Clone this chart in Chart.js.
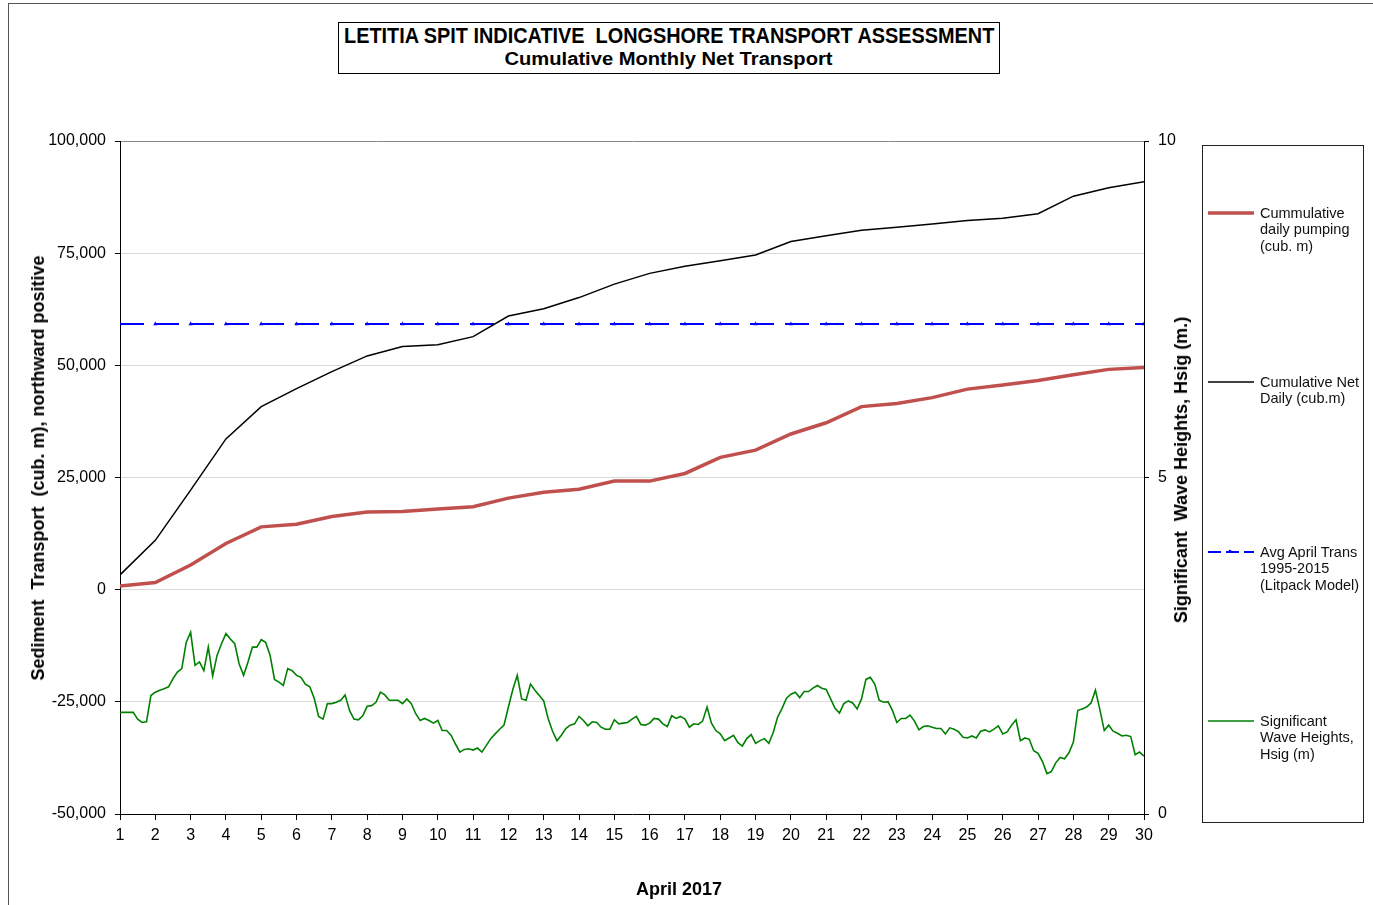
<!DOCTYPE html>
<html>
<head>
<meta charset="utf-8">
<title>Letitia Spit longshore transport</title>
<script src="https://cdn.jsdelivr.net/npm/chart.js@4.4.1/dist/chart.umd.min.js"></script>
<style>
body { margin: 0; background: #fff; width: 1373px; height: 905px; overflow: hidden; position: relative;
       font-family: "Liberation Sans", Arial, sans-serif; }
#frame { position: absolute; left: 8px; top: 3px; width: 1400px; height: 1000px;
         border-left: 1px solid #555; border-top: 1px solid #555; }
#chart { position: absolute; left: 0; top: 0; }
#titleBox { position: absolute; left: 338px; top: 22px; width: 660px; height: 50px; border: 1px solid #000; background: #fff; }
.tline { position: absolute; left: -300px; right: -300px; text-align: center; font-weight: bold; color: #000; white-space: pre; }
.tline span { display: inline-block; transform-origin: center; }
.axtitle { position: absolute; font-weight: bold; font-size: 18px; line-height: 20px; color: #000; white-space: pre;
           transform: translate(-50%, -50%); }
.axtitle.vert { transform: translate(-50%, -50%) rotate(-90deg); }
#legendBox { position: absolute; left: 1202px; top: 145px; width: 160px; height: 676px; border: 1px solid #222; }
.lg { position: absolute; left: 1260px; font-size: 14.5px; line-height: 16.5px; color: #111; white-space: nowrap; }
.sw { position: absolute; left: 1208px; width: 48px; height: 10px; }
</style>
</head>
<body>
<div id="frame"></div>
<canvas id="chart" width="1373" height="905"></canvas>

<div id="titleBox">
  <div class="tline" style="top:1px;font-size:22px;line-height:24px"><span data-w="650">LETITIA SPIT INDICATIVE  LONGSHORE TRANSPORT ASSESSMENT</span></div>
  <div class="tline" style="top:26px;font-size:18px;line-height:20px"><span data-w="328">Cumulative Monthly Net Transport</span></div>
</div>

<div class="axtitle vert" style="left:38px;top:468px">Sediment  Transport  (cub. m), northward positive</div>
<div class="axtitle vert" style="left:1181px;top:470px">Significant  Wave Heights, Hsig (m.)</div>
<div class="axtitle" style="left:679px;top:889px">April 2017</div>

<div id="legendBox"></div>
<svg class="sw" style="top:208px"><line x1="0" y1="5" x2="46" y2="5" stroke="#c0504d" stroke-width="3.5"/></svg>
<div class="lg" style="top:204.75px">Cummulative<br>daily pumping<br>(cub. m)</div>
<svg class="sw" style="top:377px"><line x1="0" y1="5" x2="46" y2="5" stroke="#000" stroke-width="1.5"/></svg>
<div class="lg" style="top:373.75px">Cumulative Net<br>Daily (cub.m)</div>
<svg class="sw" style="top:547px"><line x1="0" y1="5" x2="46" y2="5" stroke="#0000ff" stroke-width="2" stroke-dasharray="13,5"/><polygon points="22,2.5 25,5 19,5" fill="#0000ff"/></svg>
<div class="lg" style="top:543.75px">Avg April Trans<br>1995-2015<br>(Litpack Model)</div>
<svg class="sw" style="top:716px"><line x1="0" y1="5" x2="46" y2="5" stroke="#008000" stroke-width="1.5"/></svg>
<div class="lg" style="top:712.75px">Significant<br>Wave Heights,<br>Hsig (m)</div>

<script>
// April 2017, day of month
const days = [1, 2, 3, 4, 5, 6, 7, 8, 9, 10, 11, 12, 13, 14, 15,
              16, 17, 18, 19, 20, 21, 22, 23, 24, 25, 26, 27, 28, 29, 30];

// cumulative daily pumping (cub. m)
const pumping = [800, 1600, 5500, 10300, 14000, 14600, 16300, 17300, 17400, 18000,
                 18500, 20400, 21700, 22400, 24200, 24200, 25900, 29500, 31100, 34700,
                 37200, 40800, 41500, 42800, 44700, 45600, 46600, 47900, 49100, 49500];

// cumulative net daily transport (cub. m)
const netDaily = [3300, 11000, 22200, 33600, 40800, 44800, 48600, 52100, 54200, 54600,
                  56400, 61000, 62600, 65100, 68100, 70500, 72100, 73300, 74600, 77600,
                  78900, 80100, 80800, 81500, 82300, 82800, 83800, 87700, 89600, 90900];

// Avg April transport 1995-2015 (Litpack model)
const avgAprilTrans = 59200;

// significant wave height (m), 3-hourly from 1 April 00:00
const hsigStartDay = 1;
const hsigStepHours = 3;
const hsig = [
  1.51, 1.51, 1.51, 1.51, 1.41, 1.36, 1.37, 1.76,
  1.81, 1.84, 1.86, 1.89, 2.01, 2.11, 2.16, 2.55,
  2.70, 2.21, 2.26, 2.13, 2.48, 2.05, 2.36, 2.53,
  2.68, 2.60, 2.53, 2.23, 2.06, 2.26, 2.48, 2.48,
  2.59, 2.55, 2.36, 2.00, 1.96, 1.91, 2.16, 2.13,
  2.06, 2.03, 1.93, 1.89, 1.72, 1.45, 1.41, 1.64,
  1.64, 1.66, 1.69, 1.77, 1.54, 1.41, 1.40, 1.46,
  1.60, 1.61, 1.66, 1.81, 1.77, 1.69, 1.69, 1.69,
  1.64, 1.71, 1.64, 1.49, 1.39, 1.42, 1.39, 1.35,
  1.39, 1.24, 1.24, 1.17, 1.04, 0.92,
  0.96, 0.97, 0.95, 0.98, 0.92, 1.02, 1.12, 1.19,
  1.26, 1.32, 1.59, 1.85, 2.06, 1.71, 1.69, 1.93,
  1.84, 1.76, 1.68, 1.42, 1.23, 1.09, 1.17, 1.27,
  1.32, 1.34, 1.45, 1.39, 1.31, 1.37, 1.36, 1.29,
  1.26, 1.26, 1.40, 1.34, 1.35, 1.36, 1.41, 1.45,
  1.33, 1.32, 1.35, 1.42, 1.41, 1.34, 1.30, 1.46,
  1.42, 1.45, 1.41, 1.29, 1.34, 1.33, 1.38, 1.59,
  1.35, 1.24, 1.19, 1.09, 1.13, 1.17, 1.06, 1.01,
  1.12, 1.18, 1.05, 1.09, 1.12, 1.05, 1.21, 1.44,
  1.57, 1.72, 1.78, 1.81, 1.73, 1.82,
  1.82, 1.87, 1.91, 1.87, 1.85, 1.71, 1.57, 1.50,
  1.64, 1.68, 1.65, 1.56, 1.71, 2.00, 2.03, 1.93,
  1.69, 1.66, 1.67, 1.54, 1.36, 1.42, 1.42, 1.47,
  1.38, 1.25, 1.30, 1.31, 1.29, 1.27, 1.27, 1.19,
  1.28, 1.26, 1.22, 1.14, 1.13, 1.16, 1.13, 1.23,
  1.25, 1.22, 1.26, 1.31, 1.19, 1.22, 1.32, 1.40,
  1.09, 1.13, 1.11, 0.94, 0.90, 0.78, 0.60, 0.63,
  0.76, 0.84, 0.82, 0.91, 1.07, 1.54, 1.56, 1.59,
  1.65, 1.84, 1.55, 1.24, 1.32, 1.23, 1.20, 1.16,
  1.17, 1.15, 0.88, 0.92, 0.86
];

const fontFamily = "'Liberation Sans', Arial, sans-serif";
const tickFont = { family: fontFamily, size: 16 };

function withCommas(v) {
    return String(v).replace(/\B(?=(\d{3})+(?!\d))/g, ",");
}

// squeeze the title lines to the width they have in the original
document.querySelectorAll(".tline span").forEach(function (el) {
    const target = Number(el.dataset.w);
    el.style.transform = "scaleX(" + (target / el.offsetWidth) + ")";
});

const ctx = document.getElementById("chart").getContext("2d");

new Chart(ctx, {
    type: "line",
    data: {
        datasets: [
            {
                label: "Cummulative daily pumping (cub. m)",
                data: days.map((d, i) => ({ x: d, y: pumping[i] })),
                borderColor: "#c0504d",
                borderWidth: 3.5,
                pointRadius: 0,
                yAxisID: "y",
            },
            {
                label: "Cumulative Net Daily (cub.m)",
                data: days.map((d, i) => ({ x: d, y: netDaily[i] })),
                borderColor: "#000",
                borderWidth: 1.5,
                pointRadius: 0,
                yAxisID: "y",
            },
            {
                label: "Avg April Trans 1995-2015 (Litpack Model)",
                data: days.map((d) => ({ x: d, y: avgAprilTrans })),
                borderColor: "#0000ff",
                borderWidth: 2,
                borderDash: [24, 11],
                pointStyle: "triangle",
                pointRadius: 2.5,
                pointBorderWidth: 0,
                pointBackgroundColor: "#0000ff",
                yAxisID: "y",
            },
            {
                label: "Significant Wave Heights, Hsig (m)",
                data: hsig.map((v, i) => ({ x: hsigStartDay + i * hsigStepHours / 24, y: v })),
                borderColor: "#008000",
                borderWidth: 1.6,
                pointRadius: 0,
                yAxisID: "y1",
            },
        ],
    },
    options: {
        responsive: false,
        animation: false,
        devicePixelRatio: 1,
        layout: { padding: { left: 0, top: 141, right: 169, bottom: 0 } },
        plugins: { legend: { display: false }, tooltip: { enabled: false } },
        scales: {
            x: {
                type: "linear",
                min: 1,
                max: 30,
                ticks: { stepSize: 1, autoSkip: false, maxRotation: 0, font: tickFont, color: "#000", padding: 6 },
                grid: { drawOnChartArea: false, tickLength: 6, tickColor: "#000" },
                border: { color: "#000" },
                afterFit: (s) => { s.height = 91; },
            },
            y: {
                position: "left",
                min: -50000,
                max: 100000,
                ticks: { stepSize: 25000, font: tickFont, color: "#000", padding: 9, callback: withCommas },
                grid: {
                    color: (c) => (c.tick && c.tick.value === 100000 ? "#888" : "#d9d9d9"),
                    tickColor: "#000",
                    tickLength: 5,
                },
                border: { color: "#000" },
                afterFit: (s) => { s.width = 120; },
            },
            y1: {
                position: "right",
                min: 0,
                max: 10,
                ticks: { stepSize: 5, font: tickFont, color: "#000", padding: 9 },
                grid: { drawOnChartArea: false, tickColor: "#000", tickLength: 5 },
                border: { color: "#000" },
                afterFit: (s) => { s.width = 60; },
            },
        },
    },
});
</script>
</body>
</html>
